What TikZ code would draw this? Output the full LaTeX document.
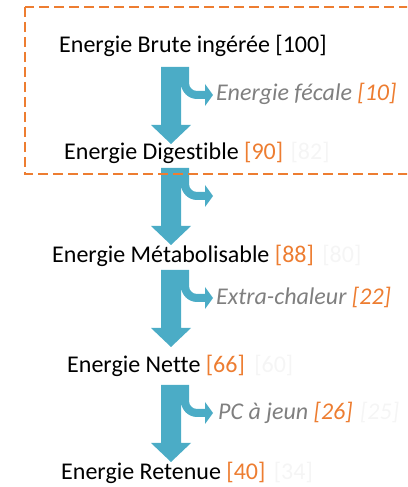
\documentclass[tikz,border=0pt]{standalone}
\usepackage{fontspec}
\setmainfont{Carlito}[Ligatures=NoCommon]
\usetikzlibrary{positioning}

\definecolor{flowblue}{HTML}{4BACC6}
\definecolor{lossorange}{HTML}{ED7D31}
\definecolor{lossgray}{HTML}{7F7F7F}

\begin{document}
\begin{tikzpicture}[x=1pt,y=1pt,
  level/.style={inner sep=0pt,anchor=base west,font=\fontsize{24}{28}\selectfont},
  loss/.style={level,text=lossgray,font=\fontsize{24}{28}\selectfont\itshape},
  ghost/.style={inner sep=0pt,text=black!4,font=\fontsize{24}{28}\selectfont},
  flowarrow/.pic={
    \fill[flowblue,yscale=-1] (0,0) -- (28,0) -- (28,16)
      .. controls (28,20.4) and (31.6,24) .. (36,24) -- (44,24) -- (44,17)
      -- (52,28) -- (44,39) -- (44,32) -- (36,32)
      .. controls (27.2,32) and (20,24.8) .. (20,16) -- (20,58)
      -- (30,58) -- (10,77) -- (-10,58) -- (0,58) -- cycle;
  }]
\useasboundingbox (0,0) rectangle (407,487);
\clip (0,0) rectangle (407,487);

% tops of the flow arrows
\coordinate (a1) at (161,420);
\coordinate (a2) at (161,319);
\coordinate (a3) at (161,217);
\coordinate (a4) at (161,102);
\pic at (a1) {flowarrow};
\pic at (a2) {flowarrow};
\pic at (a3) {flowarrow};
\pic at (a4) {flowarrow};

% energy levels
\node (eb) [level] at (59,434) {Energie Brute ingérée [100]};
\node (ed) [level] at (64,327) {Energie Digestible \textcolor{lossorange}{[90]}};
\node (em) [level] at (52,224) {Energie Métabolisable \textcolor{lossorange}{[88]}};
\node (en) [level] at (67,114) {Energie Nette \textcolor{lossorange}{[66]}};
\node (er) [level] at (61,7) {Energie Retenue \textcolor{lossorange}{[40]}};

% losses
\node (lfec) [loss] at (216,386) {Energie fécale \textcolor{lossorange}{[10]}};
\node (lchal) [loss] at (216,182) {Extra-chaleur \textcolor{lossorange}{[22]}};
\node (ljeun) [loss] at (218,67) {PC à jeun \textcolor{lossorange}{[26]}};

% faint old values
\node [ghost,base right=7pt of ed] {[82]};
\node [ghost,base right=8pt of em] {[80]};
\node [ghost,base right=9pt of en] {[60]};
\node [ghost,base right=8pt of er] {[34]};
\node [ghost,base right=7pt of ljeun,font=\fontsize{24}{28}\selectfont\itshape] {[25]};

\draw[lossorange,line width=2.4pt,dash pattern=on 10pt off 5pt] (25,480) rectangle (440,313);
\end{tikzpicture}
\end{document}
